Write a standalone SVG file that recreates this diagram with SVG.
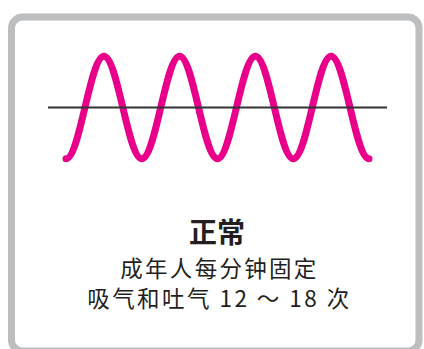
<svg xmlns="http://www.w3.org/2000/svg" width="424" height="349" viewBox="0 0 424 349">
  <style>
    .frame { fill: #FFFFFF; stroke: #BCBEC0; stroke-width: 7; }
    .wave { fill: none; stroke: #E8008B; stroke-width: 7; stroke-linecap: round; stroke-linejoin: round; }
    .axis { stroke: #333333; stroke-width: 2; }
    .txt { font-family: "Noto Sans CJK SC", "Noto Sans", sans-serif; fill: #231F20; text-anchor: middle; }
    .title { font-size: 28px; font-weight: bold; }
    .body { font-size: 22.5px; }
  </style>
  <rect width="424" height="349" fill="#FFFFFF"/>
  <g id="frame">
    <rect class="frame" x="11.5" y="17" width="407.5" height="334" rx="11" ry="11"/>
  </g>
  <g id="wave">
    <path class="wave" d="M66 158.8 C79.8 158.8 90.1 56.2 103.9 56.2 S128 158.8 141.8 158.8 S165.9 56.2 179.6 56.2 S203.7 158.8 217.5 158.8 S241.6 56.2 255.4 56.2 S279.5 158.8 293.3 158.8 S317.4 56.2 331.1 56.2 S355.2 158.8 369 158.8"/>
  </g>
  <g id="baseline">
    <line class="axis" x1="48" y1="107.5" x2="387" y2="107.5"/>
  </g>
  <g id="label">
    <text class="txt title" x="217" y="243">正常</text>
    <text class="txt body" x="218.3" y="276.5" textLength="196" lengthAdjust="spacing">成年人每分钟固定</text>
    <text class="txt body" x="218.2" y="306.5" textLength="262" lengthAdjust="spacing">吸气和吐气 12 ～ 18 次</text>
  </g>
</svg>
